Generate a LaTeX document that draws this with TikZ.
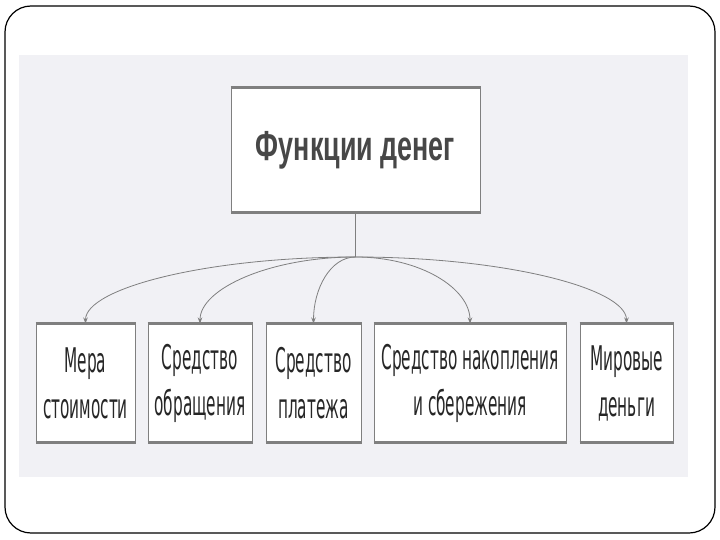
\documentclass[tikz,border=0pt]{standalone}
\usepackage{fontspec}
\usetikzlibrary{arrows.meta}
\newfontfamily\boxfont[FakeStretch=0.45]{DejaVu Sans}
\newfontfamily\titlefont[FakeStretch=0.64]{Liberation Sans}
\definecolor{panelgray}{HTML}{F1F1F5}
\definecolor{linegray}{HTML}{7F7F7F}
\definecolor{textgray}{HTML}{262626}
\tikzset{
    funcbox/.style={draw=linegray, line width=1pt, fill=white, inner sep=0pt,
        text=textgray, align=center, minimum height=118pt,
        font=\boxfont\fontsize{34}{46}\selectfont},
    boxedge/.style={draw=linegray, line width=2.6pt},
    branch/.style={draw=linegray, line width=0.8pt, -{Stealth[length=6pt,width=4.5pt]}}
}

\begin{document}
\begin{tikzpicture}[x=1pt,y=-1pt]
        \useasboundingbox (0,0) rectangle (720,540);
        \draw[line width=1.2pt, rounded corners=26pt] (5,6) rectangle (715,533);
        \fill[panelgray] (19,55) rectangle (688,477);

        \node[funcbox, minimum width=249pt, minimum height=124pt, text=textgray!85,
            font=\titlefont\bfseries\fontsize{42}{46}\selectfont] (funk) at (355.5,150)
            {Функции денег};

        \node[funcbox, minimum width=99pt] (mera) at (85.5,383) {Мера\\стоимости};
        \node[funcbox, minimum width=104pt] (obr) at (200,383) {Средство\\обращения};
        \node[funcbox, minimum width=95pt] (plat) at (313.5,383) {Средство\\платежа};
        \node[funcbox, minimum width=192pt] (nakop) at (470,383) {Средство накопления\\и сбережения};
        \node[funcbox, minimum width=93pt] (mir) at (626.5,383) {Мировые\\деньги};

        % thicker top and bottom edges
        \foreach \b in {funk,mera,obr,plat,nakop,mir} {
            \draw[boxedge] (\b.north west) -- (\b.north east);
            \draw[boxedge] (\b.south west) -- (\b.south east);
        }

        \coordinate (hub) at (355.5,257);
        \draw[draw=linegray, line width=0.8pt] (funk.south) -- (hub);

        \draw[branch] (hub) to[out=180, in=90, out distance=150pt, in distance=35pt] (mera.north);
        \draw[branch] (hub) to[out=180, in=90, out distance=85pt, in distance=35pt] (obr.north);
        \draw[branch] (hub) to[out=180, in=90, out distance=25pt, in distance=35pt] (plat.north);
        \draw[branch] (hub) to[out=0, in=90, out distance=65pt, in distance=35pt] (nakop.north);
        \draw[branch] (hub) to[out=0, in=90, out distance=150pt, in distance=35pt] (mir.north);
\end{tikzpicture}
\end{document}
